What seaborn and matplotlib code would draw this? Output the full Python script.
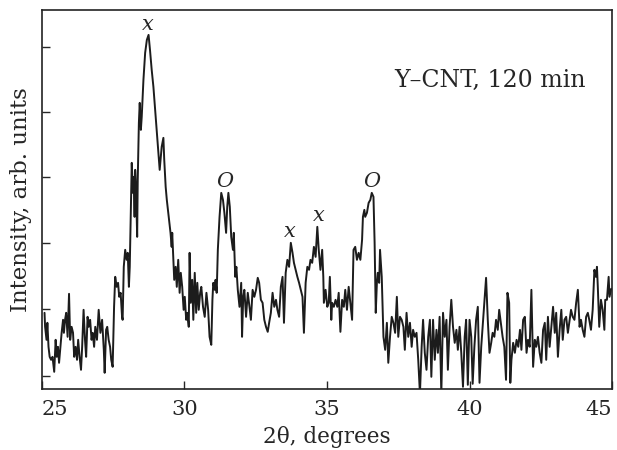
import matplotlib
matplotlib.use("Agg")
import matplotlib.pyplot as plt
import seaborn as sns
import pandas as pd

# ==========================================================
# XRD pattern, Y-CNT after 120 min
# ==========================================================

two_theta = [
    25.09, 25.11, 25.16, 25.19, 25.23, 25.27, 25.32, 25.37, 25.43, 25.48,
    25.52, 25.56, 25.60, 25.66, 25.69, 25.74, 25.77, 25.81, 25.85, 25.90,
    25.95, 25.99, 26.04, 26.09, 26.13, 26.18, 26.23, 26.27, 26.32, 26.37,
    26.41, 26.46, 26.51, 26.55, 26.60, 26.64, 26.69, 26.74, 26.78, 26.83,
    26.87, 26.93, 26.99, 27.05, 27.11, 27.17, 27.20, 27.25, 27.29, 27.34,
    27.39, 27.43, 27.48, 27.53, 27.57,
    27.62, 27.67, 27.71, 27.76, 27.81, 27.83, 27.87, 27.92, 27.97, 28.01,
    28.05, 28.08, 28.12, 28.15, 28.19, 28.22, 28.25, 28.27, 28.30, 28.34,
    28.36, 28.40, 28.43, 28.47, 28.50, 28.56, 28.62, 28.68, 28.74, 28.79,
    28.85, 28.91, 28.97, 29.02, 29.08, 29.13, 29.16, 29.20, 29.26, 29.29,
    29.34, 29.38, 29.43, 29.48, 29.51, 29.55, 29.57, 29.61, 29.64, 29.69,
    29.73, 29.78, 29.83, 29.87, 29.92, 29.97, 30.01, 30.06, 30.10, 30.15,
    30.18, 30.22, 30.27, 30.31, 30.36, 30.41, 30.45, 30.50, 30.55, 30.59,
    30.65, 30.71, 30.77, 30.83, 30.88, 30.94, 30.98, 31.01, 31.06, 31.09,
    31.13, 31.17, 31.23, 31.29, 31.35, 31.40, 31.46, 31.50, 31.54, 31.59,
    31.64, 31.70, 31.73, 31.78, 31.82, 31.87, 31.93, 31.99, 32.02, 32.06,
    32.10, 32.16, 32.22, 32.28, 32.33, 32.39, 32.45, 32.51, 32.57, 32.62,
    32.68, 32.74, 32.80, 32.86, 32.92, 32.97, 33.03, 33.09, 33.15, 33.21,
    33.26, 33.32, 33.38, 33.44, 33.49, 33.55, 33.61, 33.67, 33.73, 33.79,
    33.84, 33.90, 33.96, 34.02,
    34.08, 34.14, 34.19, 34.25, 34.31, 34.37, 34.42, 34.48, 34.54, 34.60,
    34.66, 34.71, 34.77, 34.83, 34.87, 34.89, 34.95, 35.01, 35.06, 35.10,
    35.15, 35.18, 35.24, 35.30, 35.36, 35.41, 35.47, 35.53, 35.59, 35.64,
    35.70, 35.76, 35.82, 35.88, 35.93, 35.99, 36.05, 36.11, 36.17, 36.23,
    36.26, 36.31, 36.34, 36.40, 36.46, 36.52, 36.57, 36.63, 36.67, 36.71,
    36.75, 36.78, 36.83, 36.86, 36.92, 36.98, 37.04, 37.10, 37.15, 37.21,
    37.27, 37.33, 37.39, 37.45, 37.50, 37.56,
    37.62, 37.68, 37.73, 37.79, 37.85, 37.91, 37.97, 38.02, 38.08, 38.14,
    38.20, 38.26, 38.32, 38.37, 38.43, 38.49, 38.55, 38.61, 38.66, 38.72,
    38.78, 38.84, 38.89, 38.95, 39.01, 39.07, 39.13, 39.19, 39.24, 39.30,
    39.36, 39.42, 39.48, 39.54, 39.59, 39.65, 39.71, 39.77, 39.83, 39.88,
    39.94, 40.00, 40.06, 40.11, 40.17, 40.23, 40.29, 40.35, 40.41, 40.46,
    40.52, 40.58, 40.64, 40.70, 40.76, 40.81, 40.87, 40.93, 40.99,
    41.04, 41.16, 41.22, 41.28, 41.33, 41.39, 41.43, 41.47, 41.53, 41.59,
    41.65, 41.71, 41.77, 41.82, 41.88, 41.94, 42.00, 42.05, 42.11, 42.17,
    42.23, 42.29, 42.34, 42.40, 42.46, 42.52, 42.58, 42.64, 42.69, 42.75,
    42.81, 42.87, 42.93, 42.99, 43.04, 43.10, 43.16, 43.22, 43.27, 43.33,
    43.39, 43.45, 43.51, 43.56, 43.62, 43.68, 43.74, 43.80, 43.86, 43.91,
    43.97, 44.03, 44.09, 44.15, 44.20, 44.26, 44.32, 44.38, 44.43, 44.47,
    44.50, 44.55, 44.61, 44.67, 44.73, 44.76, 44.82, 44.88, 44.91, 44.97,
]

intensity = [
    76, 62, 49, 66, 42, 32, 29, 32, 17, 49,
    32, 42, 26, 46, 56, 69, 56, 69, 76, 52,
    95, 49, 62, 56, 32, 42, 29, 49, 32, 19,
    42, 79, 49, 32, 72, 62, 69, 49, 56, 42,
    62, 49, 79, 56, 69, 39, 16, 59, 62, 49,
    42, 29, 22, 82, 112,
    102, 106, 92, 96, 72, 69, 122, 139, 129, 136,
    102, 122, 182, 226, 196, 212, 172, 219, 202, 152,
    209, 266, 286, 259, 272, 309, 336, 349, 354, 339,
    319, 302, 279, 259, 236, 219, 229, 242, 251, 229,
    202, 189, 176, 162, 156, 142, 156, 129, 109, 122,
    102, 129, 96, 116, 102, 79, 92, 69, 76, 62,
    136, 86, 109, 69, 116, 76, 106, 79, 96, 102,
    82, 72, 96, 79, 52, 44, 89, 106, 99, 109,
    96, 139, 172, 196, 189, 176, 156, 182, 196, 182,
    152, 139, 156, 112, 122, 99, 82, 106, 52, 92,
    99, 72, 96, 82, 69, 99, 92, 99, 111, 106,
    89, 86, 69, 62, 57, 66, 76, 96, 82, 89,
    79, 72, 102, 112, 66, 116, 129, 122, 146, 136,
    126, 119, 112, 106,
    99, 92, 56, 106, 122, 119, 129, 126, 142, 132,
    162, 139, 119, 139, 112, 86, 99, 82, 86, 112,
    69, 86, 82, 89, 82, 96, 57, 89, 82, 99,
    79, 102, 86, 69, 139, 142, 129, 136, 129, 149,
    172, 179, 172, 176, 186, 189, 196, 192, 146, 76,
    106, 116, 106, 139, 112, 52, 39, 66, 26, 52,
    72, 66, 56, 92, 52, 72,
    69, 62, 39, 76, 52, 66, 42, 59, 52, 56,
    29, -5, 42, 69, 36, 19, 52, 69, 12, 69,
    29, 59, 36, 72, -5, 76, 52, 69, 19, 62,
    89, 62, 46, 59, 39, 62, 36, 2, 52, 69,
    4, 69, 52, 5, 42, 69, 82, 6, 42, 62,
    86, 111, 69, 36, 46, 56, 52, 69, 59,
    79, 52, 42, 9, 96, 86, 6, 29, 46, 36,
    49, 42, 59, 39, 69, 72, 36, 49, 42, 99,
    22, 49, 42, 52, 36, 26, 59, 66, 29, 72,
    42, 62, 82, 56, 76, 32, 59, 79, 49, 69,
    72, 56, 69, 79, 72, 69, 86, 99, 62, 69,
    59, 52, 72, 76, 69, 59, 79, 119, 112, 122,
    102, 62, 89, 79, 59, 89, 89, 112, 92, 100,
]

# phase markers above the peaks
peak_pos = [28.72, 31.43, 33.68, 34.71, 36.57]
peak_tag = ["x", "O", "x", "x", "O"]

x_ticks = [25, 30, 35, 40, 45]
y_ticks = [13, 80, 146, 212, 277, 342]

# ==========================================================
# Plot
# ==========================================================

sns.set_style("ticks")
plt.rcParams["font.family"] = ["DejaVu Serif"]

df = pd.DataFrame({"two_theta": two_theta, "intensity": intensity})

fig, ax = plt.subplots(figsize=(6.17, 4.5), dpi=100)
fig.subplots_adjust(left=0.068, right=0.992, bottom=0.136, top=0.978)

sns.lineplot(
    data=df,
    x="two_theta",
    y="intensity",
    ax=ax,
    color="#1c1c1c",
    linewidth=1.4,
    estimator=None,
)

for pos, tag in zip(peak_pos, peak_tag):
    top = df.loc[(df["two_theta"] - pos).abs() < 0.16, "intensity"].max()
    ax.annotate(
        tag,
        (pos, top),
        xytext=(0, 1),
        textcoords="offset points",
        ha="center",
        va="bottom",
        fontstyle="italic",
        fontsize=15,
    )

ax.text(0.786, 0.815, "Y\u2013CNT, 120 min", transform=ax.transAxes,
        ha="center", va="center", fontsize=17)

ax.set_xlim(25, 45)
ax.set_ylim(0, 379)
ax.set_xticks(x_ticks)
ax.set_yticks(y_ticks)
ax.set_yticklabels([])

ax.tick_params(direction="in", length=6, width=1, labelsize=15, pad=8)
labels = ax.get_xticklabels()
labels[0].set_horizontalalignment("left")
labels[-1].set_horizontalalignment("right")

for side in ["top", "right", "bottom", "left"]:
    ax.spines[side].set_visible(True)
    ax.spines[side].set_linewidth(1.2)
    ax.spines[side].set_color("#222222")

ax.set_xlabel("2\u03b8, degrees", fontsize=15.5, labelpad=5)
ax.set_ylabel("Intensity, arb. units", fontsize=16.5, labelpad=-1)

plt.savefig("out.png", dpi=100)
